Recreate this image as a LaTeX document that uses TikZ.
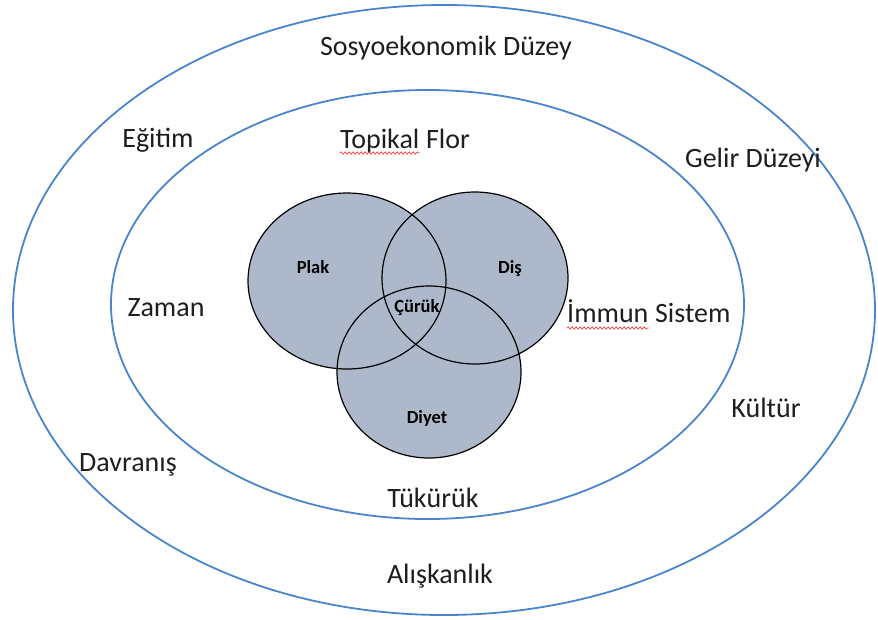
\documentclass[tikz,border=0pt]{standalone}
\usepackage{fontspec}
\setmainfont{Carlito}
\usepackage{tikz}
\usetikzlibrary{positioning,calc,decorations.pathmorphing}
\definecolor{ringblue}{RGB}{74,132,204}
\definecolor{venngray}{RGB}{173,185,202}
\definecolor{inkgray}{RGB}{30,30,30}

\begin{document}
\begin{tikzpicture}[x=1pt,y=-1pt,
    ring/.style={draw=ringblue, line width=1.8pt},
    vennfill/.style={fill=venngray},
    vennline/.style={draw=black, line width=1.2pt},
    lbl/.style={inner sep=0pt, anchor=base, text=inkgray, font=\fontsize{28}{34}\selectfont},
    vlbl/.style={inner sep=0pt, anchor=base, text=black, font=\fontsize{18.5}{22}\selectfont\bfseries},
    spell/.style={draw=red!85, line width=0.6pt, decorate,
      decoration={snake, amplitude=1.2pt, segment length=4pt}}]
    \useasboundingbox (0,0) rectangle (878,619);

    % rings
    \draw[ring] (444,310) ellipse [x radius=431pt, y radius=305pt];
    \draw[ring] (427.5,304.5) ellipse [x radius=316.5pt, y radius=214.5pt];

    % venn: fill first, then outlines
    \fill[vennfill] (347,281) ellipse [x radius=99pt, y radius=88pt]
                    (475,278) ellipse [x radius=93pt, y radius=86pt]
                    (429,372) ellipse [x radius=92pt, y radius=86pt];
    \draw[vennline] (347,281) ellipse [x radius=99pt, y radius=88pt];
    \draw[vennline] (475,278) ellipse [x radius=93pt, y radius=86pt];
    \draw[vennline] (429,372) ellipse [x radius=92pt, y radius=86pt];

    \node [vlbl] (plak) at (313,273) {Plak};
    \node [vlbl] (dis) at (510,273) {Diş};
    \node [vlbl] (curuk) at (417,312) {Çürük};
    \node [vlbl] (diyet) at (427,423) {Diyet};

    % outer ring labels
    \node [lbl] (sosyo) at (446,55) {Sosyoekonomik Düzey};
    \node [lbl] (egitim) at (158,147) {Eğitim};
    \node [lbl] (gelir) at (753,167) {Gelir Düzeyi};
    \node [lbl] (kultur) at (766,417) {Kültür};
    \node [lbl] (davranis) at (128,471) {Davranış};
    \node [lbl] (aliskanlik) at (440,583) {Alışkanlık};

    % inner ring labels
    \node [lbl, anchor=base west] (topikal) at (340,148) {Topikal};
    \node [lbl, anchor=base west] (flor) at ([xshift=6.3pt]topikal.base east) {Flor};
    \node [lbl] (zaman) at (166,316) {Zaman};
    \node [lbl, anchor=base west] (immun) at (567,322) {İmmun};
    \node [lbl, anchor=base west] (sistem) at ([xshift=6.3pt]immun.base east) {Sistem};
    \node [lbl] (tukuruk) at (433,507) {Tükürük};

    \draw[spell] ([yshift=-5pt]topikal.base west) -- ([yshift=-5pt]topikal.base east);
    \draw[spell] ([yshift=-6pt]immun.base west) -- ([yshift=-6pt]immun.base east);
\end{tikzpicture}
\end{document}
